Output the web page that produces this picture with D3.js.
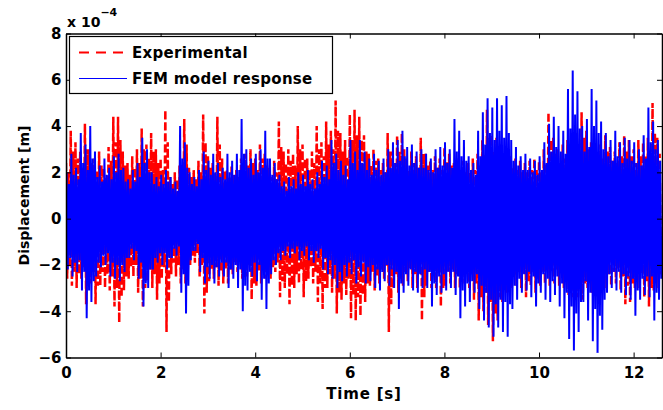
<!DOCTYPE html>
<html>
<head>
<meta charset="utf-8">
<script src="https://cdn.jsdelivr.net/npm/d3@7"></script>
<style>
  html, body { margin: 0; padding: 0; background: #fff; }
  svg { display: block; }
  text { font-family: "DejaVu Sans", "Liberation Sans", Arial, sans-serif; font-weight: bold; fill: #000; }
</style>
</head>
<body>
<svg id="chart" width="663" height="410"></svg>
<script>
// ---- data (displacement in units of 1e-4 m), per 0.1 s bin ----
// major peaks (largest excursion in each bin) and minor peaks (typical excursion in the bin)
const binWidth = 0.1; // s
const expHi = [
  2.4, 3.8, 3.3, 2.9, 4.1, 3.0, 2.6, 2.9, 2.2, 3.1, 4.4, 4.4, 2.9, 2.4, 2.7, 3.0, 3.9, 3.2, 3.7, 3.0, 2.6,
  4.7, 1.8, 2.0, 2.3, 4.3, 2.2, 2.1, 2.5, 4.5, 2.7, 2.4, 4.4, 2.6, 2.1, 2.3, 2.1, 2.6, 2.8, 3.0, 2.6,
  3.2, 2.8, 2.2, 2.5, 4.2, 2.9, 3.0, 2.8, 4.0, 3.2, 2.6, 2.9, 4.0, 3.3, 4.2, 3.8, 5.1, 3.7, 3.4, 4.5, 4.7,
  4.4, 3.6, 2.8, 3.0, 2.6, 2.4, 3.7, 2.9, 3.6, 3.7, 2.6, 2.9, 2.7, 3.5, 2.8, 2.5, 2.7, 2.6, 3.1, 2.8, 2.4,
  2.6, 2.5, 2.4, 2.6, 2.8, 3.4, 4.7, 3.6, 3.5, 3.2, 3.0, 2.7, 2.6, 2.5, 2.4, 2.5, 2.6, 2.5, 3.0, 4.6, 3.5,
  3.0, 3.2, 3.4, 3.5, 3.7, 4.6, 3.8, 3.3, 3.0, 3.2, 3.6, 3.1, 2.9, 3.3, 3.6, 3.4, 3.0, 3.4, 3.3, 3.5, 5.0, 3.5
];
const expLo = [
  -2.6, -2.9, -3.0, -2.6, -3.7, -2.8, -3.7, -2.9, -3.0, -3.1, -3.8, -4.5, -3.1, -2.6, -2.5, -3.2, -3.8, -2.7, -3.0, -3.5, -2.6,
  -4.9, -2.4, -2.5, -2.8, -2.8, -2.0, -1.9, -2.5, -4.1, -2.7, -2.6, -2.9, -2.8, -2.8, -2.4, -2.3, -2.6, -2.5, -3.5, -2.9,
  -2.8, -2.6, -2.6, -2.3, -3.4, -3.0, -3.7, -3.0, -2.8, -3.4, -2.6, -2.8, -3.6, -3.9, -3.0, -3.2, -4.1, -3.5, -3.3, -4.3, -4.4,
  -4.2, -3.6, -2.9, -3.1, -2.8, -2.6, -4.9, -3.0, -3.2, -2.9, -2.7, -3.0, -3.0, -4.4, -2.9, -3.0, -3.0, -3.8, -2.9, -2.8, -3.0,
  -3.0, -2.8, -3.0, -3.5, -4.4, -4.0, -4.6, -5.3, -4.4, -3.6, -3.2, -3.0, -2.9, -3.0, -3.4, -2.9, -3.2, -2.9, -2.8, -2.9, -2.8,
  -2.9, -3.0, -3.3, -3.4, -3.4, -3.5, -3.0, -3.2, -3.4, -3.0, -3.0, -2.9, -2.8, -3.1, -3.7, -3.6, -3.0, -3.0, -3.4, -3.8, -3.1, -3.0
];
const expMinorHi = [
  2.0, 2.9, 2.6, 2.2, 3.0, 2.4, 2.1, 2.3, 1.8, 2.5, 3.3, 3.4, 2.3, 1.9, 2.2, 2.4, 3.0, 2.6, 2.9, 2.4, 2.1,
  3.3, 1.5, 1.7, 1.9, 3.2, 1.8, 1.7, 2.0, 3.3, 2.2, 2.0, 3.2, 2.1, 1.8, 1.9, 1.8, 2.1, 2.3, 2.4, 2.1,
  2.6, 2.3, 1.8, 2.0, 3.1, 2.4, 2.5, 2.3, 3.0, 2.6, 2.1, 2.4, 3.0, 2.7, 3.2, 3.0, 3.8, 2.9, 2.7, 3.4, 3.6,
  3.4, 2.9, 2.3, 2.5, 2.1, 2.0, 2.9, 2.4, 2.9, 3.0, 2.1, 2.4, 2.2, 2.8, 2.3, 2.1, 2.2, 2.1, 2.5, 2.3, 2.0,
  2.1, 2.0, 2.0, 2.1, 2.3, 2.8, 3.5, 2.9, 2.8, 2.6, 2.4, 2.2, 2.1, 2.0, 2.0, 2.1, 2.1, 2.0, 2.4, 3.4, 2.8,
  2.4, 2.6, 2.7, 2.8, 3.0, 3.5, 3.0, 2.7, 2.4, 2.6, 2.9, 2.5, 2.4, 2.7, 2.9, 2.7, 2.4, 2.7, 2.7, 2.8, 3.7, 2.8
];
const expMinorLo = [
  -2.1, -2.3, -2.4, -2.1, -2.9, -2.3, -2.9, -2.3, -2.4, -2.5, -3.0, -3.4, -2.5, -2.1, -2.0, -2.6, -3.0, -2.2, -2.4, -2.8, -2.1,
  -3.6, -1.9, -2.0, -2.2, -2.3, -1.6, -1.5, -2.0, -3.2, -2.2, -2.1, -2.3, -2.2, -2.2, -1.9, -1.9, -2.1, -2.0, -2.8, -2.3,
  -2.2, -2.1, -2.1, -1.9, -2.7, -2.4, -2.9, -2.4, -2.2, -2.7, -2.1, -2.3, -2.8, -3.0, -2.4, -2.6, -3.2, -2.8, -2.6, -3.3, -3.4,
  -3.3, -2.8, -2.3, -2.5, -2.2, -2.1, -3.7, -2.4, -2.6, -2.3, -2.2, -2.4, -2.4, -3.4, -2.3, -2.4, -2.4, -3.0, -2.3, -2.2, -2.4,
  -2.4, -2.2, -2.4, -2.8, -3.4, -3.2, -3.6, -4.1, -3.4, -2.9, -2.6, -2.4, -2.3, -2.4, -2.7, -2.3, -2.6, -2.3, -2.2, -2.3, -2.2,
  -2.3, -2.4, -2.6, -2.7, -2.7, -2.8, -2.4, -2.6, -2.7, -2.4, -2.4, -2.3, -2.2, -2.5, -2.9, -2.8, -2.4, -2.4, -2.7, -3.0, -2.5, -2.4
];
const femHi = [
  2.0, 2.8, 2.2, 3.7, 3.2, 4.0, 2.9, 2.3, 2.6, 2.2, 2.7, 2.8, 2.2, 1.7, 2.1, 2.4, 3.5, 3.0, 2.0, 1.8, 1.9,
  2.1, 1.8, 1.6, 4.0, 3.3, 2.0, 1.8, 2.1, 2.9, 2.5, 2.8, 2.4, 2.2, 2.8, 2.5, 2.8, 4.3, 3.0, 2.6, 2.8,
  3.0, 3.8, 2.6, 2.4, 1.9, 1.6, 1.8, 1.7, 2.0, 1.9, 2.1, 1.7, 2.0, 2.5, 2.3, 3.4, 2.8, 2.5, 2.3, 3.4, 2.9,
  3.4, 2.9, 2.6, 2.8, 2.5, 2.6, 3.0, 3.3, 3.4, 3.8, 3.1, 3.2, 2.9, 3.0, 2.8, 2.6, 3.0, 3.1, 3.3, 3.0, 4.3,
  3.8, 3.4, 2.7, 2.4, 3.8, 4.6, 5.2, 4.8, 5.2, 4.9, 5.3, 3.4, 3.1, 2.7, 2.8, 2.6, 2.5, 2.7, 3.3, 4.1, 4.4,
  4.0, 3.8, 5.6, 6.4, 5.5, 4.0, 4.3, 5.6, 5.1, 4.2, 3.7, 3.4, 3.8, 3.3, 3.5, 3.4, 3.3, 3.0, 3.6, 4.8, 4.2, 3.4
];
const femLo = [
  -2.2, -2.5, -2.3, -3.1, -4.3, -3.6, -2.5, -2.1, -2.0, -2.5, -2.6, -2.7, -2.3, -1.7, -1.8, -2.6, -3.8, -3.0, -2.2, -1.9, -2.0,
  -2.2, -1.7, -1.6, -3.2, -4.1, -1.8, -1.4, -2.3, -2.8, -2.6, -2.8, -2.5, -2.5, -3.0, -2.6, -3.0, -4.0, -3.1, -2.5, -2.7,
  -3.5, -3.9, -2.4, -2.0, -1.8, -1.6, -1.7, -1.5, -1.8, -1.6, -1.8, -1.9, -1.7, -2.2, -2.4, -2.6, -3.0, -2.7, -2.5, -2.4, -2.8,
  -2.5, -2.8, -2.7, -3.0, -3.1, -2.7, -2.9, -3.0, -3.9, -3.2, -2.9, -3.1, -3.2, -3.0, -3.0, -3.8, -3.3, -3.2, -3.1, -3.0, -3.3,
  -4.3, -3.8, -3.6, -3.2, -3.9, -4.4, -4.7, -5.1, -4.7, -4.9, -5.1, -3.9, -3.5, -3.2, -3.1, -3.4, -3.8, -3.2, -3.5, -3.6, -3.3,
  -3.8, -4.3, -5.2, -5.7, -4.9, -3.6, -4.4, -5.3, -5.8, -4.8, -3.2, -3.0, -3.1, -3.2, -3.3, -3.5, -4.2, -3.5, -3.3, -3.4, -4.4, -3.5
];
const femMinorHi = [
  1.5, 1.9, 1.7, 2.4, 2.1, 2.6, 1.8, 1.6, 1.9, 1.7, 2.0, 2.1, 1.6, 1.3, 1.6, 1.8, 2.4, 2.0, 1.5, 1.4, 1.5,
  1.6, 1.3, 1.2, 2.6, 2.2, 1.5, 1.4, 1.7, 2.1, 1.9, 2.0, 1.8, 1.7, 2.0, 1.9, 2.1, 2.8, 2.2, 1.9, 2.0,
  2.2, 2.6, 1.9, 1.7, 1.4, 1.2, 1.4, 1.3, 1.5, 1.4, 1.5, 1.3, 1.5, 1.8, 1.7, 2.4, 2.1, 1.9, 1.7, 2.4, 2.1,
  2.4, 2.1, 1.9, 2.1, 1.9, 2.0, 2.2, 2.4, 2.5, 2.7, 2.3, 2.4, 2.2, 2.2, 2.1, 2.0, 2.2, 2.3, 2.4, 2.2, 2.9,
  2.7, 2.5, 2.1, 1.9, 2.7, 3.2, 3.7, 3.4, 3.8, 3.5, 3.7, 2.5, 2.3, 2.1, 2.1, 2.0, 1.9, 2.1, 2.4, 2.9, 3.1,
  2.9, 2.8, 3.9, 4.5, 3.9, 2.9, 3.1, 4.0, 3.7, 3.0, 2.7, 2.5, 2.7, 2.4, 2.6, 2.5, 2.4, 2.3, 2.6, 3.3, 3.0, 2.5
];
const femMinorLo = [
  -1.7, -1.9, -1.8, -2.3, -3.1, -2.7, -1.9, -1.6, -1.5, -1.9, -2.0, -2.0, -1.7, -1.3, -1.4, -1.9, -2.8, -2.2, -1.7, -1.5, -1.5,
  -1.7, -1.3, -1.2, -2.4, -2.9, -1.4, -1.1, -1.7, -2.1, -2.0, -2.1, -1.9, -1.9, -2.2, -2.0, -2.2, -2.9, -2.3, -1.9, -2.0,
  -2.6, -2.8, -1.8, -1.5, -1.4, -1.2, -1.3, -1.2, -1.4, -1.2, -1.4, -1.4, -1.3, -1.7, -1.8, -2.0, -2.3, -2.0, -1.9, -1.8, -2.1,
  -1.9, -2.1, -2.0, -2.2, -2.3, -2.0, -2.2, -2.3, -2.8, -2.4, -2.2, -2.3, -2.4, -2.2, -2.3, -2.8, -2.5, -2.4, -2.3, -2.3, -2.5,
  -3.1, -2.8, -2.7, -2.4, -2.9, -3.2, -3.5, -3.7, -3.5, -3.6, -3.7, -2.9, -2.6, -2.4, -2.3, -2.5, -2.8, -2.4, -2.6, -2.7, -2.5,
  -2.8, -3.2, -3.8, -4.1, -3.6, -2.7, -3.2, -3.9, -4.2, -3.5, -2.4, -2.3, -2.3, -2.4, -2.5, -2.6, -3.1, -2.6, -2.5, -2.5, -3.2, -2.6
];
const xTicks = [0, 2, 4, 6, 8, 10, 12];
const yTicks = [-6, -4, -2, 0, 2, 4, 6, 8];
const seriesNames = ["Experimental", "FEM model response"];
const seriesColors = ["#ff0000", "#0000ff"];

// ---- layout ----
const svg = d3.select("#chart");
const L = 66, R = 662, T = 33.5, B = 357.5;
const x = d3.scaleLinear().domain([0, 12.6]).range([L, R]);
const y = d3.scaleLinear().domain([-6, 8]).range([B, T]);
const times = d3.range(expHi.length).map(i => i * binWidth);

// each bin: major peak, major trough, minor peak, minor trough
function oscillation(hi, lo, mhi, mlo, offset) {
  const q = binWidth / 4, pts = [];
  times.forEach((t, i) => {
    pts.push([t + offset, hi[i]]);
    pts.push([t + offset + q, lo[i]]);
    pts.push([t + offset + 2 * q, mhi[i]]);
    pts.push([t + offset + 3 * q, mlo[i]]);
  });
  return pts;
}
const line = d3.line().x(d => x(d[0])).y(d => y(d[1]));

svg.append("clipPath").attr("id", "clip")
  .append("rect").attr("x", L).attr("y", T).attr("width", R - L).attr("height", B - T);

const plot = svg.append("g").attr("clip-path", "url(#clip)");
plot.append("path")
  .attr("d", line(oscillation(expHi, expLo, expMinorHi, expMinorLo, 0)))
  .attr("fill", "none").attr("stroke", seriesColors[0])
  .attr("stroke-width", 2.5).attr("stroke-dasharray", "8,3");
plot.append("path")
  .attr("d", line(oscillation(femHi, femLo, femMinorHi, femMinorLo, binWidth / 8)))
  .attr("fill", "none").attr("stroke", seriesColors[1])
  .attr("stroke-width", 2);

// ---- axes ----
const fmt = d => (d < 0 ? "\u2212" + Math.abs(d) : String(d));
const gx = svg.append("g").attr("transform", `translate(0,${B})`)
  .call(d3.axisBottom(x).tickValues(xTicks).tickSizeInner(-5).tickSizeOuter(0).tickPadding(10).tickFormat(fmt));
const gy = svg.append("g").attr("transform", `translate(${L},0)`)
  .call(d3.axisLeft(y).tickValues(yTicks).tickSizeInner(-5).tickSizeOuter(0).tickPadding(4.5).tickFormat(fmt));
const gt = svg.append("g").attr("transform", `translate(0,${T})`)
  .call(d3.axisTop(x).tickValues(xTicks).tickSizeInner(-5).tickSizeOuter(0).tickFormat(""));
const gr = svg.append("g").attr("transform", `translate(${R},0)`)
  .call(d3.axisRight(y).tickValues(yTicks).tickSizeInner(-5).tickSizeOuter(0).tickFormat(""));
[gx, gy, gt, gr].forEach(g => {
  g.select(".domain").attr("stroke", "#000").attr("stroke-width", 1.5);
  g.selectAll(".tick line").attr("stroke", "#000").attr("stroke-width", 1);
  g.selectAll(".tick text").attr("fill", "#000")
    .style("font-size", "15px").style("font-weight", "bold")
    .style("font-family", "'DejaVu Sans', sans-serif");
});

// exponent label
const ex = svg.append("text").attr("x", 67).attr("y", 27).style("font-size", "14px");
ex.append("tspan").text("x 10");
ex.append("tspan").attr("dy", -11).style("font-size", "11px").text("\u22124");

// axis titles
svg.append("text").attr("x", (L + R) / 2).attr("y", 399).attr("text-anchor", "middle")
  .style("font-size", "15px").style("letter-spacing", "0.8px").text("Time [s]");
svg.append("text").attr("transform", `translate(29,${(T + B) / 2}) rotate(-90)`)
  .attr("text-anchor", "middle").style("font-size", "14px").text("Displacement [m]");

// ---- legend ----
const lg = svg.append("g");
lg.append("rect").attr("x", 69.5).attr("y", 36.5).attr("width", 263).attr("height", 57)
  .attr("fill", "#fff").attr("stroke", "#000").attr("stroke-width", 1.2);
const legY = [52.5, 78.5];
seriesNames.forEach((name, i) => {
  lg.append("line").attr("x1", 79).attr("x2", 127).attr("y1", legY[i]).attr("y2", legY[i])
    .attr("stroke", seriesColors[i]).attr("stroke-width", i === 0 ? 2 : 1)
    .attr("stroke-dasharray", i === 0 ? "10,7" : null);
  lg.append("text").attr("x", 132).attr("y", legY[i] + 5.5).style("font-size", "15px")
    .style("letter-spacing", "0.3px").text(name);
});
</script>
</body>
</html>
